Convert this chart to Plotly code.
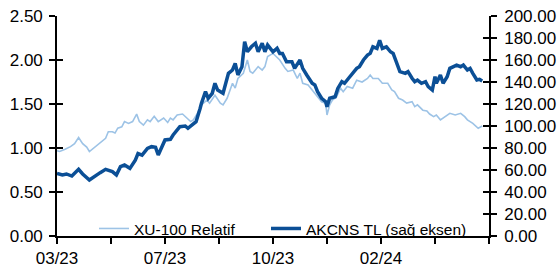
import plotly.graph_objects as go

# Trading-day index (x) and values
xu_days = [0, 2, 6, 10, 13, 16, 19, 22, 24, 28, 32, 36, 38, 41, 43, 45, 48, 50, 53, 56,
           59, 61, 64, 67, 69, 72, 75, 79, 82, 84, 86, 89, 93, 96, 99, 101, 104, 107, 111, 113,
           117, 121, 123, 126, 130, 132, 134, 138, 141, 143, 145, 149, 152, 154, 156, 160, 164, 165, 169, 171,
           175, 178, 180, 182, 186, 190, 193, 196, 199, 200, 202, 204, 207, 210, 212, 215, 219, 222, 226, 230,
           232, 234, 238, 241, 245, 248, 250, 253, 256, 259, 263, 265, 267, 271, 274, 276, 279, 281, 284, 287,
           291, 295, 299, 302, 304, 308, 312, 315]
xu_rel = [0.97, 0.96, 0.985, 1.015, 1.05, 1.12, 1.05, 1.01, 0.96, 1.01, 1.07, 1.11, 1.185, 1.185, 1.17, 1.225, 1.24, 1.30, 1.28, 1.30,
          1.385, 1.30, 1.26, 1.32, 1.30, 1.36, 1.30, 1.34, 1.29, 1.34, 1.32, 1.375, 1.386, 1.34, 1.30, 1.32, 1.394, 1.49, 1.545, 1.51,
          1.60, 1.51, 1.49, 1.565, 1.735, 1.68, 1.79, 1.85, 2.0, 1.87, 1.85, 1.925, 1.886, 1.925, 2.04, 2.075, 2.02, 2.0, 1.905, 1.87,
          1.886, 1.79, 1.85, 1.735, 1.716, 1.64, 1.58, 1.526, 1.51, 1.375, 1.49, 1.545, 1.58, 1.68, 1.64, 1.70, 1.68, 1.77, 1.75, 1.79,
          1.83, 1.79, 1.79, 1.735, 1.735, 1.66, 1.64, 1.565, 1.545, 1.51, 1.526, 1.47, 1.49, 1.43, 1.42, 1.386, 1.356, 1.375, 1.32, 1.356,
          1.394, 1.375, 1.394, 1.356, 1.32, 1.28, 1.224, 1.25]

akcns_days = [0, 4, 7, 11, 16, 19, 24, 28, 32, 36, 38, 41, 44, 47, 50, 54, 58, 60, 63, 67,
              70, 73, 75, 78, 80, 84, 86, 91, 95, 97, 101, 103, 106, 107, 110, 112, 115, 117, 119, 123,
              127, 130, 132, 134, 137, 139, 141, 144, 147, 149, 152, 154, 156, 160, 163, 165, 167, 170, 174, 176,
              180, 182, 185, 189, 191, 193, 196, 199, 200, 202, 206, 208, 211, 213, 216, 219, 222, 224, 227, 230,
              232, 234, 237, 239, 241, 244, 247, 249, 252, 254, 258, 260, 263, 265, 267, 270, 273, 275, 278, 280,
              281, 284, 286, 289, 291, 293, 296, 299, 301, 304, 306, 308, 311, 313, 315]
akcns_tl = [57.0, 55.5, 56.4, 54.5, 60.6, 56.4, 50.9, 54.5, 57.6, 60.6, 60.0, 58.5, 55.5, 63.0, 64.5, 61.5, 69.0, 75.0, 73.6, 79.7,
            81.2, 80.6, 73.6, 81.2, 87.3, 87.9, 91.8, 99.4, 100.0, 97.9, 102.5, 103.9, 116.0, 120.6, 131.2, 125.2, 129.7, 138.8, 132.7, 129.7,
            147.9, 150.9, 157.0, 146.4, 153.9, 176.6, 167.5, 172.0, 175.2, 167.5, 175.2, 167.5, 173.6, 167.5, 170.6, 166.0, 166.0, 158.5, 158.5, 152.4,
            160.0, 152.4, 146.4, 138.8, 137.3, 131.2, 125.2, 122.1, 117.5, 125.2, 126.6, 134.2, 140.3, 138.8, 143.4, 147.9, 152.4, 153.9, 160.0, 164.5,
            166.0, 172.0, 170.6, 178.0, 170.6, 172.0, 167.5, 166.0, 157.0, 149.4, 147.9, 149.4, 143.4, 140.3, 141.8, 138.8, 140.3, 135.7, 132.7, 144.8,
            138.8, 146.4, 138.8, 144.8, 152.4, 153.9, 155.4, 153.9, 155.4, 150.9, 152.4, 147.9, 141.8, 142.4, 141.0]

tick_days = [0, 40, 80, 120, 160, 200, 240, 280, 320]
tick_labels = ["03/23", "", "07/23", "", "10/23", "", "02/24", "", ""]

LIGHT = "#9DC3E6"
DARK = "#0B4F96"
FONT = "Liberation Sans, Arial, sans-serif"
TICK_SIZE = 17
LEGEND_SIZE = 15.5

fig = go.Figure()
fig.add_trace(go.Scatter(x=xu_days, y=xu_rel, mode="lines", name="XU-100 Relatif",
                         line=dict(color=LIGHT, width=1.6), yaxis="y", legend="legend"))
fig.add_trace(go.Scatter(x=akcns_days, y=akcns_tl, mode="lines", name="AKCNS TL (sağ eksen)",
                         line=dict(color=DARK, width=3.5), yaxis="y2", legend="legend2"))
# invisible helpers so the inner half of the crossing tick marks are drawn
fig.add_trace(go.Scatter(x=[], y=[], yaxis="y3", showlegend=False, hoverinfo="skip"))
fig.add_trace(go.Scatter(x=[], y=[], yaxis="y4", showlegend=False, hoverinfo="skip"))

axis_common = dict(showgrid=False, zeroline=False, linecolor="black", linewidth=1.6,
                   tickcolor="black", tickwidth=1.6, ticklen=6,
                   tickfont=dict(family=FONT, size=TICK_SIZE, color="black"))
inner_common = dict(ticks="inside", showticklabels=False, showline=False, overlaying="y",
                    anchor="x", showgrid=False, zeroline=False, tickcolor="black",
                    tickwidth=1.6, ticklen=6)
legend_common = dict(orientation="h", y=-0.045, xanchor="left", yanchor="bottom",
                     bgcolor="rgba(0,0,0,0)",
                     font=dict(family=FONT, size=LEGEND_SIZE, color="black"))

fig.update_layout(
    width=558, height=270,
    margin=dict(l=57, r=69, t=16, b=34, autoexpand=False),
    paper_bgcolor="white", plot_bgcolor="white",
    font=dict(family=FONT, size=TICK_SIZE, color="black"),
    xaxis=dict(range=[0, 320], tickmode="array", tickvals=tick_days, ticktext=tick_labels,
               ticks="outside", showline=True, automargin=False, **axis_common),
    yaxis=dict(range=[0, 2.5], dtick=0.5, tick0=0, tickformat=".2f", ticks="outside",
               showline=True, automargin=False, ticklabelstandoff=3, **axis_common),
    yaxis2=dict(range=[0, 200], dtick=20, tick0=0, tickformat=".2f", ticks="outside",
                showline=True, overlaying="y", side="right", anchor="x", automargin=False,
                ticklabelstandoff=4, **axis_common),
    yaxis3=dict(range=[0, 2.5], dtick=0.5, tick0=0, side="left", **inner_common),
    yaxis4=dict(range=[0, 200], dtick=20, tick0=0, side="right", **inner_common),
    legend=dict(x=0.0856, **legend_common),
    legend2=dict(x=0.4838, **legend_common),
    showlegend=True,
)

fig.write_html("out.html", post_script="document.body.style.margin='0';",
               config={"displayModeBar": False})
